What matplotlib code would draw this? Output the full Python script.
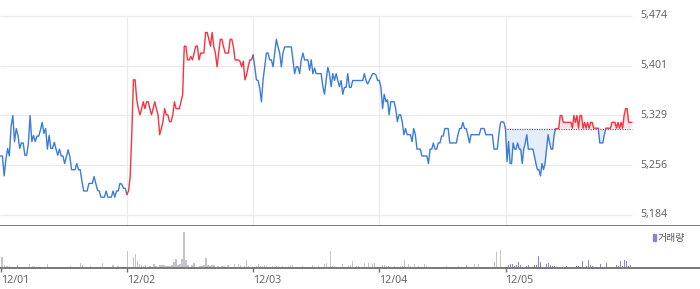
import numpy as np
import matplotlib
matplotlib.use('Agg')
import matplotlib.pyplot as plt
from matplotlib.patches import Rectangle
from matplotlib.transforms import blended_transform_factory

plt.rcParams['font.family'] = ['Noto Sans', 'Noto Sans CJK KR', 'DejaVu Sans']

# intraday prices, one list per trading day
day1 = [5270, 5270, 5241, 5265, 5281, 5270, 5313, 5329, 5291, 5310,
        5300, 5281, 5289, 5289, 5271, 5271, 5288, 5329, 5291, 5300,
        5291, 5299, 5299, 5308, 5319, 5303, 5310, 5280, 5300, 5281,
        5281, 5290, 5280, 5271, 5280, 5270, 5270, 5259, 5269, 5279,
        5269, 5250, 5250, 5250, 5259, 5250, 5250, 5233, 5219, 5219,
        5219, 5230, 5230, 5230, 5240, 5230, 5220, 5219, 5210, 5210,
        5210, 5219, 5210, 5210, 5210, 5219, 5210, 5219, 5219, 5230,
        5229, 5223, 5223, 5214]
day2 = [5219, 5240, 5303, 5381, 5381, 5352, 5339, 5330, 5339, 5349,
        5339, 5349, 5349, 5339, 5330, 5339, 5349, 5339, 5330, 5301,
        5310, 5320, 5339, 5330, 5330, 5320, 5320, 5330, 5349, 5339,
        5339, 5339, 5349, 5359, 5430, 5430, 5410, 5410, 5415, 5410,
        5420, 5430, 5430, 5410, 5420, 5420, 5420, 5450, 5450, 5440,
        5430, 5450, 5429, 5420, 5400, 5420, 5440, 5440, 5429, 5420,
        5420, 5420, 5440, 5440, 5429, 5410, 5410, 5410, 5408, 5400,
        5408, 5381, 5388, 5400, 5410, 5410, 5417]
day3 = [5400, 5381, 5380, 5369, 5349, 5381, 5400, 5420, 5420, 5410,
        5410, 5400, 5420, 5440, 5429, 5420, 5400, 5420, 5429, 5429,
        5429, 5429, 5429, 5410, 5390, 5400, 5400, 5390, 5410, 5420,
        5410, 5410, 5410, 5395, 5410, 5390, 5398, 5390, 5390, 5390,
        5390, 5371, 5360, 5381, 5399, 5390, 5371, 5390, 5380, 5390,
        5380, 5371, 5380, 5360, 5370, 5370, 5390, 5370, 5370, 5380,
        5380, 5380, 5380, 5380, 5380, 5380, 5390, 5380, 5375, 5380,
        5385, 5390, 5390, 5388, 5380, 5380]
day4 = [5370, 5339, 5360, 5349, 5352, 5330, 5349, 5349, 5349, 5339,
        5320, 5330, 5330, 5320, 5301, 5310, 5301, 5301, 5301, 5291,
        5310, 5301, 5280, 5280, 5280, 5270, 5270, 5270, 5270, 5259,
        5280, 5280, 5289, 5280, 5280, 5289, 5289, 5299, 5299, 5310,
        5310, 5310, 5289, 5289, 5289, 5289, 5289, 5301, 5310, 5310,
        5319, 5310, 5310, 5301, 5289, 5301, 5301, 5301, 5301, 5301,
        5301, 5310, 5310, 5310, 5301, 5301, 5301, 5301, 5301, 5280,
        5280, 5280, 5303, 5319, 5320, 5319, 5310]
day5 = [5262, 5291, 5259, 5259, 5289, 5280, 5280, 5289, 5280, 5280,
        5259, 5280, 5289, 5301, 5280, 5280, 5280, 5280, 5270, 5259,
        5250, 5250, 5241, 5259, 5250, 5259, 5280, 5301, 5289, 5280,
        5280, 5301, 5310, 5310, 5310, 5329, 5329, 5319, 5319, 5319,
        5319, 5319, 5319, 5310.5, 5329, 5319, 5329, 5310.5, 5329, 5329,
        5310.5, 5319, 5310.5, 5319, 5310.5, 5319, 5319, 5310.5, 5310.5, 5310.5,
        5310.5, 5289, 5289, 5289, 5301, 5310.5, 5310.5, 5310.5, 5310.5, 5319,
        5319, 5319, 5310.5, 5319, 5310.5, 5319, 5310.5, 5329, 5339, 5339,
        5319, 5319, 5319]
prev_close = 5310

# volume (arbitrary units), one list per day
vol1 = [11, 3, 2, 2, 1, 0, 3, 1, 0, 0, 0, 4, 2, 2, 0, 1, 1, 0, 4, 1,
        0, 1, 1, 1, 1, 0, 1, 2, 1, 0, 0, 5, 3, 0, 1, 2, 0, 1, 1, 1,
        5, 0, 1, 1, 3, 1, 2, 1, 1, 1]
vol2 = [17, 1, 0, 11, 14, 7, 4, 3, 2, 3, 1, 2, 1, 4, 2, 1, 3, 3, 3, 2,
        2, 2, 3, 6, 9, 3, 4, 9, 36, 8, 3, 1, 3, 5, 1, 0, 2, 2, 3, 10,
        3, 2, 3, 3, 0, 2, 0, 2, 2, 1, 3, 0, 1, 4, 1, 4, 3, 1, 2, 8,
        2, 0, 1]
vol3 = [0, 2, 4, 2, 2, 3, 2, 1, 0, 2, 1, 2, 2, 1, 2, 0, 1, 2, 3, 3,
        0, 1, 1, 1, 2, 0, 1, 0, 0, 3, 1, 0, 2, 0, 0, 4, 5, 0, 17, 2,
        2, 0, 0, 1, 4, 0, 1, 2, 3, 7, 0, 2, 2, 0, 1, 5, 1, 5, 0, 4,
        5, 1, 0]
vol4 = [0, 3, 3, 2, 2, 1, 0, 2, 1, 0, 2, 2, 8, 1, 4, 2, 0, 4, 1, 2,
        1, 0, 4, 2, 0, 1, 0, 1, 0, 1, 0, 1, 0, 2, 0, 1, 0, 0, 1, 2,
        0, 1, 0, 3, 0, 0, 1, 4, 0, 4, 0, 1, 1, 0, 0, 0, 0, 6, 16, 0,
        18, 1, 1]
vol5 = [1, 3, 4, 4, 2, 3, 6, 3, 1, 0, 2, 3, 1, 0, 3, 3, 12, 6, 1, 1,
        4, 5, 3, 2, 2, 1, 1, 0, 0, 1, 2, 0, 0, 1, 0, 2, 2, 1, 7, 0,
        2, 8, 3, 2, 0, 1, 0, 4, 1, 1, 5, 1, 0, 1, 0, 3, 2, 7, 2, 8,
        7, 2, 3]

dates = ['12/01', '12/02', '12/03', '12/04', '12/05']
price_ticks = [5184, 5256.5, 5329, 5401.5, 5474]
price_labels = ['5,184', '5,256', '5,329', '5,401', '5,474']

BLUE = '#3a7bdc'
RED = '#f9323f'
day_colors = [BLUE, RED, BLUE, BLUE]

fig = plt.figure(figsize=(7, 2.89), dpi=100)
H = 289.0
ax = fig.add_axes([0, (H - 225.6) / H, 1, 225.6 / H])
axv = fig.add_axes([0, (H - 268.3) / H, 1, 42.3 / H])

px = 126.2
xlim = (-0.7 / px, 5 + 68.3 / px)
for a in (ax, axv):
    a.set_xlim(*xlim)
    for s in ('top', 'left', 'right'):
        a.spines[s].set_visible(False)
    a.spines['bottom'].set_color('#707070')
    a.spines['bottom'].set_linewidth(1.3)
    a.set_yticks([])

ax.set_ylim(5474 - 209.6 * 1.4573, 5474 + 16 * 1.4573)
ax.set_xticks([])

# grid
ax.hlines(price_ticks, xlim[0], 5, colors='#ebebeb', lw=0.9, zorder=0)
ax.vlines([1, 2, 3, 4], ax.get_ylim()[0], 5474, colors='#ebebeb', lw=0.9, zorder=0)

# price line, day by day
days = [day1, day2, day3, day4, day5]
xs = []
for d, vals in enumerate(days):
    n = len(vals)
    if d == 0:
        xs.append(np.linspace(0, 1, n))
    else:
        xs.append(d + np.arange(1, n + 1) / n)

for d in range(4):
    if d == 0:
        x, y = xs[0], np.array(day1, float)
    else:
        x = np.concatenate([[xs[d - 1][-1]], xs[d]])
        y = np.concatenate([[days[d - 1][-1]], days[d]])
    ax.plot(x, y, color=day_colors[d], lw=1.0, zorder=3)

# last day: red above previous close, blue below, shaded
x5 = np.concatenate([[4], xs[4]])
y5 = np.concatenate([[day4[-1]], day5]).astype(float)
ax.fill_between(x5, y5, prev_close, where=y5 >= prev_close, interpolate=True,
                color='#fde4e7', lw=0, zorder=1)
ax.fill_between(x5, y5, prev_close, where=y5 <= prev_close, interpolate=True,
                color='#e4edf9', lw=0, zorder=1)
ax.hlines(prev_close, 4.01, 5, colors='#555555', linestyles=(0, (1, 1.2)), lw=0.8, zorder=2)
up, = ax.plot(x5, y5, color=RED, lw=1.0, zorder=3)
dn, = ax.plot(x5, y5, color=BLUE, lw=1.0, zorder=3)
up.set_clip_path(Rectangle((3.9, prev_close), 1.2, 500, transform=ax.transData))
dn.set_clip_path(Rectangle((3.9, prev_close - 500), 1.2, 500, transform=ax.transData))

# right-hand price labels
tr = blended_transform_factory(fig.transFigure, ax.transData)
for v, lab in zip(price_ticks, price_labels):
    ax.text(640 / 700, v, lab, transform=tr, ha='left', va='center',
            fontsize=7.6, color='#666666')

# volume bars
vols = [vol1, vol2, vol3, vol4, vol5]
for d, v in enumerate(vols):
    n = len(v)
    xv = d + (np.arange(n) + 0.5) / n
    color = '#9382c9' if d == 4 else '#c4c5ca'
    axv.bar(xv, v, width=0.009, color=color, lw=0)
axv.set_ylim(0, 42.3)
axv.set_xticks(range(5))
axv.set_xticklabels(dates)
axv.tick_params(axis='x', direction='out', length=3, width=1, color='#707070',
                labelsize=7.6, labelcolor='#666666', pad=2)
for t in axv.get_xticklabels():
    t.set_ha('left')

# legend
fig.patches.append(Rectangle((653 / 700, (H - 241.3) / H), 2.5 / 700, 7.3 / H,
                             transform=fig.transFigure, color='#9382c9'))
fig.text(657.5 / 700, (H - 237.8) / H, '거래량', ha='left', va='center',
         fontsize=7.1, color='#555555', family=['Noto Sans CJK KR', 'DejaVu Sans'])

fig.savefig('out.png', dpi=100)
